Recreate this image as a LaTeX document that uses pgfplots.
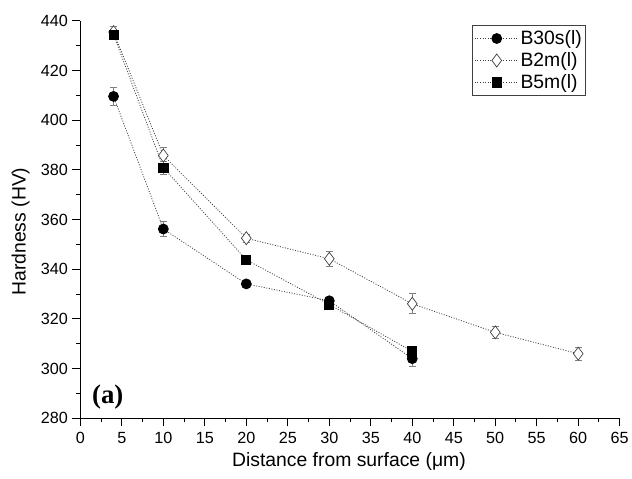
\documentclass[border=0pt]{standalone}
\usepackage{pgfplots}
\pgfplotsset{compat=1.18}
\usepackage{fontspec}
\setmainfont{Liberation Sans}
\newfontfamily\serifbold{Liberation Serif}
\begin{document}
\begin{tikzpicture}
\begin{axis}[
 scale only axis, width=541.6bp, height=399bp,
 xmin=0, xmax=65, ymin=280, ymax=440,
 axis lines=left, axis line style={-, line width=1bp},
 xtick={0,5,...,65}, ytick={280,300,...,440},
 minor x tick num=1, minor y tick num=1,
 tick align=outside, major tick length=8bp, minor tick length=4bp,
 tick style={black, line width=1bp},
 tick label style={font=\fontsize{16.3}{18}\selectfont},
 xticklabel style={yshift=-2.5bp},
 yticklabel style={xshift=-1bp},
 /pgf/number format/assume math mode=true,
 xlabel={Distance from surface (μm)},
 ylabel={Hardness (HV)},
 every axis x label/.style={at={(axis description cs:0.498,-0.108)}, anchor=center},
 every axis y label/.style={at={(axis description cs:-0.1108,0.47)}, rotate=90, anchor=center},
 label style={font=\fontsize{19.5}{22}\selectfont},
 legend style={at={(0.937,0.99)}, anchor=north east, draw=darkgray, line width=0.8bp,
   font=\fontsize{19.5}{22}\selectfont, row sep=3.5bp, inner xsep=2bp, inner ysep=4bp,
   nodes={inner sep=1.5bp}},
 legend cell align=left,
 legend image code/.code={\draw[mark repeat=2,mark phase=2] plot coordinates {(0bp,0bp)(22bp,0bp)(44bp,0bp)};},
 error bars/error bar style={gray, solid, line width=0.7bp},
 error bars/error mark options={rotate=90, gray, solid, mark size=3.5bp, line width=0.7bp},
]
\addplot[darkgray, line width=0.8bp, dash pattern=on 1bp off 1.6bp,
  mark=*, mark size=5bp, mark options={solid, draw=black, fill=black},
  error bars/.cd, y dir=both, y explicit] coordinates {
 (4,409.6) +- (0,3.5)
 (10,356.2) +- (0,3)
 (20,334.1) +- (0,1.2)
 (30,327.3) +- (0,1.5)
 (40,304.0) +- (0,3)
};
\addlegendentry{B30s(l)}
\addplot[darkgray, line width=0.8bp, dash pattern=on 1bp off 1.6bp,
  mark=diamond*, mark size=6.5bp, mark options={solid, draw=darkgray, fill=white, line width=0.7bp},
  error bars/.cd, y dir=both, y explicit] coordinates {
 (4,435.5) +- (0,2.5)
 (10,385.8) +- (0,3.3)
 (20,352.5) +- (0,1.5)
 (30,344.2) +- (0,3)
 (40,326.1) +- (0,4)
 (50,314.6) +- (0,2.3)
 (60,306.0) +- (0,2.5)
};
\addlegendentry{B2m(l)}
\addplot[darkgray, line width=0.8bp, dash pattern=on 1bp off 1.6bp,
  mark=square*, mark size=4.6bp, mark options={solid, draw=black, fill=black},
  error bars/.cd, y dir=both, y explicit] coordinates {
 (4,434.5) +- (0,2)
 (10,380.9) +- (0,2.5)
 (20,343.8) +- (0,1.5)
 (30,325.8) +- (0,1.5)
 (40,306.9) +- (0,2)
};
\addlegendentry{B5m(l)}
\node[font=\serifbold\bfseries\fontsize{27}{29}\selectfont] at (axis cs:3.3,288.5) {(a)};
\end{axis}
\path[use as bounding box] (-80.7bp,-61bp) rectangle (551.3bp,420bp);
\end{tikzpicture}
\end{document}
